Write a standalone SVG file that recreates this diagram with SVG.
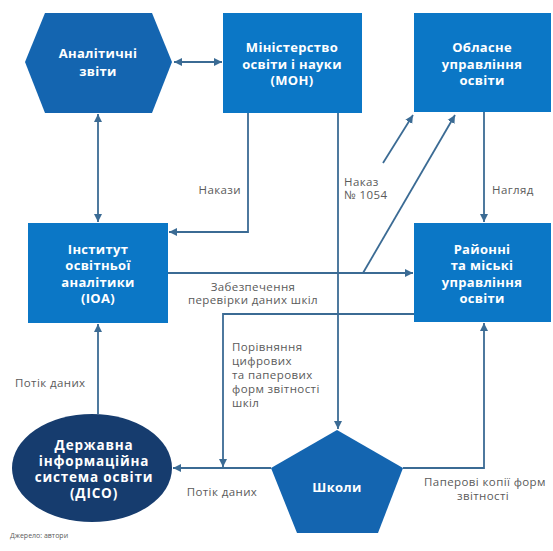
<svg xmlns="http://www.w3.org/2000/svg" width="553" height="551" viewBox="0 0 553 551">
<style>
.box{fill:#0b77c6}
.dark{fill:#1465b0}
.navy{fill:#163c6e}
.t{font-family:"Open Sans","Liberation Sans",sans-serif;font-weight:700;font-size:13px;letter-spacing:0.3px;fill:#fff;text-anchor:middle}
.d{font-size:13.5px;letter-spacing:0.8px}
.l{font-family:"Open Sans","Liberation Sans",sans-serif;font-size:11.5px;letter-spacing:0.4px;fill:#5a5a5a}
.c{fill:none;stroke:#3b6b94;stroke-width:1.8}
</style>
<defs>
<marker id="ah" markerUnits="userSpaceOnUse" markerWidth="9" markerHeight="9" refX="8" refY="4" orient="auto-start-reverse" viewBox="0 0 9 8">
<path d="M0,0 L8,4 L0,8 z" fill="#3b6b94"/>
</marker>
</defs>
<rect width="553" height="551" fill="#fff"/>
<g id="connectors">
<line class="c" x1="174" y1="62" x2="222" y2="62" marker-start="url(#ah)" marker-end="url(#ah)"/>
<line class="c" x1="98" y1="114" x2="98" y2="222" marker-start="url(#ah)" marker-end="url(#ah)"/>
<path class="c" d="M248,113 V232 H169" marker-end="url(#ah)"/>
<path class="c" d="M338,113 V429" marker-end="url(#ah)"/>
<path class="c" d="M383,163 L413,115" marker-end="url(#ah)"/>
<path class="c" d="M363,273 L455,115" marker-end="url(#ah)"/>
<path class="c" d="M484,112 V222" marker-end="url(#ah)"/>
<path class="c" d="M168,273 H413" marker-end="url(#ah)"/>
<path class="c" d="M414,314 H223 V467" marker-end="url(#ah)"/>
<path class="c" d="M271,468 H173" marker-end="url(#ah)"/>
<path class="c" d="M403,468 H484 V323" marker-end="url(#ah)"/>
<path class="c" d="M98,414 V324" marker-end="url(#ah)"/>
</g>
<g id="analytic-reports">
<polygon class="dark" points="25,62 45,13 152,13 172,62 152,113 45,113"/>
<text class="t" x="98" y="58">Аналітичні<tspan x="98" dy="18">звіти</tspan></text>
</g>
<g id="mon">
<rect class="box" x="223" y="13" width="139" height="100"/>
<text class="t" x="292" y="52">Міністерство<tspan x="292" dy="16.5">освіти і науки</tspan><tspan x="292" dy="16.5">(МОН)</tspan></text>
</g>
<g id="oblast">
<rect class="box" x="414" y="13" width="137" height="99"/>
<text class="t" x="482" y="52">Обласне<tspan x="482" dy="16.5">управління</tspan><tspan x="482" dy="16.5">освіти</tspan></text>
</g>
<g id="ioa">
<rect class="box" x="28" y="223" width="140" height="100"/>
<text class="t" x="98" y="254">Інститут<tspan x="98" dy="16.3">освітньої</tspan><tspan x="98" dy="16.3">аналітики</tspan><tspan x="98" dy="16.3">(ІОА)</tspan></text>
</g>
<g id="district">
<rect class="box" x="414" y="223" width="137" height="99"/>
<text class="t" x="482" y="254">Районні<tspan x="482" dy="16.3">та міські</tspan><tspan x="482" dy="16.3">управління</tspan><tspan x="482" dy="16.3">освіти</tspan></text>
</g>
<g id="disco">
<ellipse class="navy" cx="92" cy="468" rx="80" ry="54"/>
<text class="t d" x="94" y="450">Державна<tspan x="94" dy="16">інформаційна</tspan><tspan x="94" dy="16">система освіти</tspan><tspan x="94" dy="16">(ДІСО)</tspan></text>
</g>
<g id="schools">
<polygon class="dark" points="337,430 403,468 378,533 297,533 271,468"/>
<text class="t" x="337" y="492">Школи</text>
</g>
<g id="labels">
<text class="l" x="241" y="194" text-anchor="end">Накази</text>
<text class="l" x="344" y="186">Наказ<tspan x="344" dy="13">№ 1054</tspan></text>
<text class="l" x="492" y="194">Нагляд</text>
<text class="l" x="253" y="291" text-anchor="middle">Забезпечення<tspan x="253" dy="13">перевірки даних шкіл</tspan></text>
<text class="l" x="232" y="351">Порівняння<tspan x="232" dy="14">цифрових</tspan><tspan x="232" dy="14">та паперових</tspan><tspan x="232" dy="14">форм звітності</tspan><tspan x="232" dy="14">шкіл</tspan></text>
<text class="l" x="15" y="387">Потік даних</text>
<text class="l" x="222" y="496" text-anchor="middle">Потік даних</text>
<text class="l" x="485" y="486" text-anchor="middle">Паперові копії форм<tspan x="483" dy="14">звітності</tspan></text>
<text class="l" x="10" y="538" style="font-size:7px;letter-spacing:0">Джерело: автори</text>
</g>
</svg>
